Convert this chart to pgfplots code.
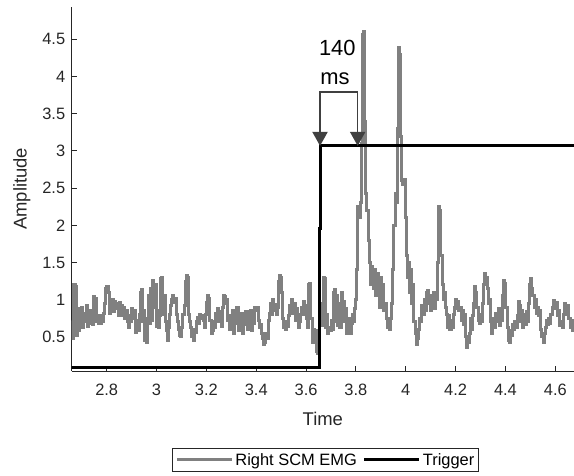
\documentclass[border=0pt]{standalone}
\usepackage{pgfplots}
\pgfplotsset{compat=1.18}
\usepackage{pgfplotstable}
\usepackage{fontspec}
\setmainfont{Liberation Sans}
\definecolor{axgray}{HTML}{262626}
\definecolor{emggray}{HTML}{808080}
\definecolor{arrgray}{HTML}{404040}

\pgfplotstableread{
x y
2.660 0.72
2.664 0.48
2.668 1.20
2.673 1.18
2.677 0.52
2.681 0.88
2.686 0.58
2.690 0.86
2.695 0.66
2.699 0.90
2.704 0.62
2.708 0.82
2.713 0.70
2.717 0.92
2.722 0.64
2.726 0.80
2.731 0.68
2.735 0.86
2.740 0.70
2.744 0.66
2.748 1.04
2.752 0.70
2.757 1.02
2.761 0.72
2.766 0.68
2.770 0.78
2.775 0.68
2.779 0.74
2.784 0.70
2.788 0.82
2.792 0.95
2.797 1.15
2.801 1.18
2.806 1.10
2.810 0.82
2.815 0.98
2.819 0.88
2.824 1.00
2.828 0.84
2.833 0.98
2.837 0.88
2.842 0.95
2.846 0.78
2.851 0.96
2.855 0.86
2.860 0.92
2.864 0.78
2.869 0.90
2.873 0.74
2.878 0.86
2.882 0.70
2.887 0.62
2.891 0.78
2.896 0.70
2.900 0.88
2.905 0.75
2.909 0.86
2.914 0.56
2.918 0.60
2.922 0.72
2.927 0.58
2.931 0.80
2.935 1.10
2.940 1.13
2.944 0.70
2.949 0.86
2.953 0.45
2.958 0.42
2.962 0.75
2.967 1.05
2.971 0.68
2.976 1.15
2.980 0.72
2.985 1.26
2.989 0.90
2.994 1.20
2.998 0.64
3.003 0.85
3.007 0.62
3.012 0.78
3.016 1.28
3.021 1.30
3.025 0.80
3.030 1.05
3.034 0.70
3.039 0.58
3.043 0.45
3.048 0.62
3.052 0.80
3.057 0.92
3.061 1.00
3.066 1.05
3.070 0.96
3.075 1.02
3.079 0.80
3.084 0.70
3.088 0.60
3.093 0.52
3.097 0.50
3.102 0.62
3.106 0.80
3.111 0.92
3.115 1.25
3.120 1.33
3.124 1.30
3.129 0.80
3.133 0.70
3.138 0.62
3.142 0.50
3.147 0.45
3.151 0.60
3.156 0.56
3.160 0.70
3.165 0.76
3.169 0.68
3.174 0.80
3.178 0.74
3.183 0.78
3.187 0.72
3.192 0.62
3.196 0.80
3.201 0.96
3.205 1.05
3.210 1.02
3.214 0.72
3.219 0.55
3.223 0.58
3.228 0.70
3.232 0.62
3.237 0.82
3.241 0.75
3.246 0.88
3.250 0.70
3.255 0.84
3.259 0.64
3.264 0.90
3.268 1.05
3.273 1.04
3.277 0.95
3.282 1.00
3.286 0.72
3.291 0.60
3.295 0.78
3.300 0.62
3.304 0.85
3.309 0.55
3.313 0.78
3.318 0.68
3.322 0.90
3.327 0.58
3.331 0.75
3.336 0.62
3.340 0.82
3.345 0.55
3.349 0.78
3.354 0.66
3.358 0.84
3.363 0.60
3.367 0.80
3.372 0.70
3.376 0.85
3.381 0.58
3.385 0.82
3.390 0.68
3.394 0.90
3.399 0.86
3.403 0.90
3.408 0.72
3.412 0.62
3.417 0.66
3.421 0.55
3.426 0.48
3.430 0.39
3.435 0.42
3.439 0.55
3.444 0.48
3.448 0.72
3.453 0.82
3.457 0.95
3.462 0.80
3.466 1.00
3.471 0.85
3.475 0.94
3.480 0.80
3.484 0.90
3.489 1.25
3.493 1.33
3.498 1.30
3.502 1.10
3.507 0.75
3.511 0.62
3.516 0.60
3.520 0.70
3.525 0.64
3.529 0.78
3.534 0.92
3.538 0.86
3.543 1.00
3.547 0.82
3.552 0.95
3.556 0.72
3.561 0.88
3.565 0.75
3.570 0.62
3.574 0.70
3.579 0.80
3.583 0.90
3.588 0.98
3.592 0.80
3.597 0.92
3.601 0.75
3.606 0.62
3.610 1.20
3.615 1.22
3.619 0.75
3.624 0.42
3.628 0.60
3.633 0.45
3.637 0.58
3.642 0.30
3.646 0.28
3.651 0.45
3.655 0.70
3.660 0.95
3.664 0.65
3.669 1.30
3.673 1.28
3.678 0.62
3.682 0.80
3.687 0.55
3.691 0.62
3.696 0.58
3.700 0.72
3.705 0.60
3.709 1.10
3.714 1.14
3.718 0.70
3.723 1.05
3.727 0.65
3.732 0.95
3.736 0.62
3.741 1.10
3.745 0.80
3.750 0.98
3.754 0.70
3.759 0.88
3.763 0.55
3.768 0.60
3.772 0.75
3.777 0.55
3.781 0.68
3.786 0.80
3.790 0.70
3.795 0.88
3.799 1.00
3.804 1.40
3.808 2.25
3.813 2.10
3.817 2.30
3.822 3.10
3.826 4.57
3.831 4.60
3.835 3.40
3.840 2.43
3.844 2.20
3.849 1.80
3.853 1.50
3.858 1.20
3.862 1.45
3.867 1.30
3.871 1.15
3.876 1.40
3.880 1.05
3.885 1.35
3.889 1.10
3.894 0.90
3.898 1.30
3.903 1.00
3.907 1.20
3.912 0.85
3.916 0.95
3.921 0.75
3.925 0.62
3.930 0.70
3.934 0.60
3.939 0.75
3.943 0.95
3.948 1.40
3.952 2.00
3.957 2.43
3.961 2.30
3.966 3.30
3.970 4.39
3.975 4.30
3.979 3.20
3.984 2.60
3.988 2.55
3.993 2.62
3.997 2.10
4.002 1.60
4.006 1.30
4.011 1.50
4.015 1.10
4.020 1.40
4.024 0.95
4.029 1.20
4.033 0.70
4.038 0.55
4.042 0.40
4.047 0.48
4.051 0.60
4.056 0.75
4.060 0.70
4.065 0.92
4.069 0.80
4.074 1.00
4.078 0.85
4.083 1.10
4.087 1.12
4.092 0.95
4.096 1.05
4.101 0.85
4.105 0.95
4.110 1.10
4.114 0.88
4.119 1.02
4.123 1.00
4.128 1.50
4.132 2.25
4.137 2.20
4.141 1.60
4.146 1.20
4.150 1.00
4.155 1.10
4.159 0.90
4.164 0.80
4.168 0.62
4.173 0.78
4.177 0.60
4.182 0.72
4.186 0.62
4.191 0.80
4.195 0.90
4.200 1.00
4.204 0.88
4.209 0.98
4.213 0.85
4.218 0.90
4.222 0.72
4.227 0.86
4.231 0.66
4.236 0.80
4.240 0.50
4.245 0.36
4.249 0.42
4.254 0.55
4.258 0.75
4.263 0.60
4.267 0.78
4.272 0.95
4.276 1.17
4.281 1.10
4.285 0.90
4.290 0.72
4.294 0.68
4.299 0.80
4.303 0.70
4.308 0.95
4.312 1.20
4.317 1.35
4.321 1.30
4.326 1.15
4.330 0.95
4.335 1.00
4.339 0.70
4.344 0.55
4.348 0.62
4.353 0.75
4.357 0.62
4.362 0.82
4.366 0.70
4.371 0.88
4.375 0.65
4.380 0.80
4.384 0.72
4.389 1.05
4.393 1.26
4.398 1.22
4.402 0.90
4.407 0.62
4.411 0.45
4.416 0.42
4.420 0.58
4.425 0.52
4.429 0.66
4.434 0.60
4.438 0.70
4.443 0.62
4.447 0.78
4.452 0.97
4.456 0.92
4.461 0.70
4.465 0.85
4.470 0.62
4.474 0.80
4.479 0.66
4.483 0.84
4.488 0.70
4.492 0.95
4.497 1.20
4.501 1.28
4.506 1.15
4.510 1.05
4.515 0.90
4.519 1.00
4.524 0.82
4.528 0.90
4.533 0.78
4.537 0.85
4.542 0.60
4.546 0.50
4.551 0.43
4.555 0.55
4.560 0.62
4.564 0.72
4.569 0.66
4.573 0.75
4.578 0.68
4.582 0.80
4.587 0.90
4.591 0.99
4.596 0.95
4.600 0.88
4.605 0.96
4.609 0.78
4.614 0.85
4.618 0.65
4.623 0.70
4.627 0.62
4.632 0.80
4.636 0.95
4.641 0.90
4.645 0.80
4.650 0.92
4.654 0.75
4.659 0.62
4.663 0.70
4.668 0.58
4.672 0.72
4.676 0.65
}\emgdata

\pgfplotstableread{
x y
2.650 0.083
3.652 0.083
3.652 1.95
3.656 1.95
3.656 3.069
4.700 3.069
}\trigdata

\begin{document}
\begin{tikzpicture}
\begin{axis}[
  at={(0,0)}, anchor=south west,
  scale only axis,
  width=502.3bp, height=364.3bp,
  xmin=2.6596, xmax=4.675,
  ymin=0.04, ymax=4.94,
  xtick={2.8,3,3.2,3.4,3.6,3.8,4,4.2,4.4,4.6},
  ytick={0.5,1,1.5,2,2.5,3,3.5,4,4.5},
  axis x line*=bottom, axis y line*=left,
  axis line style={axgray, line width=0.9bp, -},
  tick align=inside,
  major tick length=5bp,
  tick style={axgray, line width=0.9bp},
  /pgf/number format/assume math mode=true,
  tick label style={font=\fontsize{16.5}{18}\selectfont, text=axgray},
  xticklabel style={yshift=-10bp},
  yticklabel style={xshift=-3bp},
  xlabel={Time}, ylabel={Amplitude},
  every axis x label/.style={at={(axis description cs:0.5,-0.132)}, anchor=center, font=\fontsize{18.5}{20}\selectfont, text=axgray},
  every axis y label/.style={at={(axis description cs:-0.099,0.5)}, anchor=center, rotate=90, font=\fontsize{18.5}{20}\selectfont, text=axgray},
  legend columns=2,
  legend style={at={(axis description cs:0.506,-0.244)}, anchor=center,
    draw=axgray, line width=0.8bp, font=\fontsize{16.5}{18}\selectfont,
    inner xsep=2.5bp, inner ysep=3bp,
    /tikz/every even column/.append style={column sep=4bp},
    nodes={inner xsep=2bp, inner ysep=2bp}},
  clip=true,
]
\addplot[const plot, emggray, line width=3bp,
  legend image code/.code={\draw[emggray, line width=3bp] (0bp,0bp) -- (55bp,0bp);}] table[x=x, y=y] {\emgdata};
\addlegendentry{Right SCM EMG}
\addplot[black, line width=3bp,
  legend image code/.code={\draw[black, line width=3bp] (0bp,0bp) -- (55bp,0bp);}] table[x=x, y=y] {\trigdata};
\addlegendentry{Trigger}

\draw[arrgray, line width=1.6bp] (axis cs:3.656,3.22) |- (axis cs:3.807,3.795) -- (axis cs:3.807,3.22);
\fill[arrgray] (axis cs:3.656,3.069) -- (axis cs:3.6247,3.257) -- (axis cs:3.6873,3.257) -- cycle;
\fill[arrgray] (axis cs:3.807,3.069) -- (axis cs:3.7757,3.257) -- (axis cs:3.8383,3.257) -- cycle;
\node[font=\fontsize{22}{24}\selectfont, text=black] at (axis cs:3.7254,4.383) {140};
\node[font=\fontsize{22}{24}\selectfont, text=black] at (axis cs:3.716,3.966) {ms};
\end{axis}
\pgfresetboundingbox
\path[use as bounding box] (-71.7bp,-105bp) rectangle (502.3bp,371bp);
\end{tikzpicture}
\end{document}
